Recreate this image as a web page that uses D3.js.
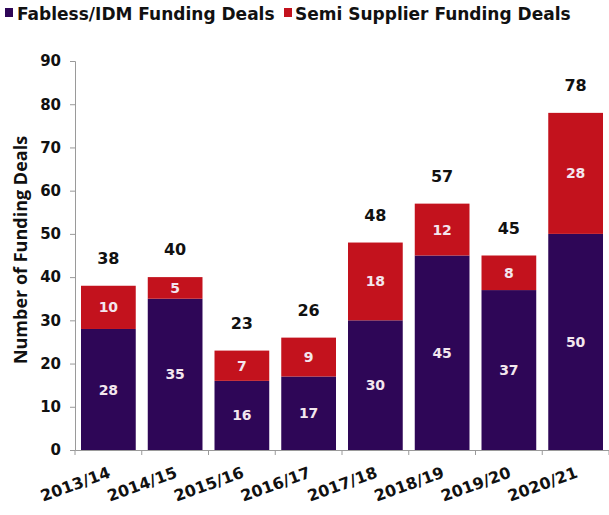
<!DOCTYPE html>
<html><head><meta charset="utf-8">
<script src="https://cdn.jsdelivr.net/npm/d3@7/dist/d3.min.js"></script>
<style>body{margin:0;background:#fff}svg{display:block}</style>
</head><body>
<svg id="c" width="609" height="515"></svg>
<script>
const categories = ["2013/14","2014/15","2015/16","2016/17","2017/18","2018/19","2019/20","2020/21"];
const fabless = [28,35,16,17,30,45,37,50];
const semi = [10,5,7,9,18,12,8,28];
const totals = [38,40,23,26,48,57,45,78];
const yTicks = [0,10,20,30,40,50,60,70,80,90];
const seriesNames = ["Fabless/IDM Funding Deals","Semi Supplier Funding Deals"];
const colors = ["#2e0657","#c3121d"];

const svg = d3.select("#c");
const F = "'DejaVu Sans', Verdana, sans-serif";
const pLeft = 75, pRight = 609, pTop = 61, pBottom = 450;

const x = d3.scaleBand().domain(categories).range([pLeft, pRight]).paddingInner(0.18).paddingOuter(0.09);
const y = d3.scaleLinear().domain([0, 90]).range([pBottom, pTop]);

const data = categories.map((c, i) => ({cat: c, fabless: fabless[i], semi: semi[i], total: totals[i]}));
const stack = d3.stack().keys(["fabless","semi"])(data);

svg.append("g").selectAll("g").data(stack).join("g")
  .attr("fill", (d, i) => colors[i])
  .selectAll("rect").data(d => d).join("rect")
  .attr("x", d => x(d.data.cat))
  .attr("width", x.bandwidth())
  .attr("y", d => y(d[1]))
  .attr("height", d => y(d[0]) - y(d[1]));

// segment labels
stack.forEach(s => {
  svg.append("g").selectAll("text").data(s).join("text")
    .attr("x", d => x(d.data.cat) + x.bandwidth() / 2)
    .attr("y", d => (y(d[0]) + y(d[1])) / 2)
    .attr("dy", "0.36em")
    .attr("text-anchor", "middle")
    .attr("font-family", F).attr("font-weight", "bold").attr("font-size", 14)
    .attr("fill", "#f3e6ee")
    .text(d => d[1] - d[0]);
});

// totals
svg.append("g").selectAll("text").data(data).join("text")
  .attr("x", d => x(d.cat) + x.bandwidth() / 2)
  .attr("y", d => y(d.total) - 22)
  .attr("text-anchor", "middle")
  .attr("font-family", F).attr("font-weight", "bold").attr("font-size", 16)
  .attr("fill", "#111")
  .text(d => d.total);

// y axis
const ya = svg.append("g").attr("transform", `translate(${pLeft},0)`)
  .call(d3.axisLeft(y).tickValues(yTicks).tickSize(5).tickPadding(9));
ya.select(".domain").attr("stroke", "#9a9a9a");
ya.selectAll(".tick line").attr("stroke", "#9a9a9a");
ya.selectAll(".tick text").attr("font-family", F).attr("font-weight", "bold").attr("font-size", 15).attr("fill", "#111");

// x axis
const xa = svg.append("g").attr("transform", `translate(0,${pBottom})`)
  .call(d3.axisBottom(x).tickSize(0).tickFormat(""));
xa.select(".domain").attr("stroke", "#9a9a9a");
const xtick = d3.range(categories.length + 1).map(i => pLeft + i * x.step());
svg.append("g").selectAll("line").data(xtick).join("line")
  .attr("x1", d => d).attr("x2", d => d).attr("y1", pBottom).attr("y2", pBottom + 5)
  .attr("stroke", "#9a9a9a");
svg.append("g").selectAll("text").data(categories).join("text")
  .attr("transform", d => `translate(${x(d) + x.bandwidth() / 2 + 3},${pBottom + 27}) rotate(-20)`)
  .attr("text-anchor", "end")
  .attr("font-family", F).attr("font-weight", "bold").attr("font-size", 16)
  .attr("fill", "#111")
  .text(d => d);

// y axis title
svg.append("text")
  .attr("transform", `translate(27,250) rotate(-90)`)
  .attr("text-anchor", "middle")
  .attr("font-family", "'Open Sans', sans-serif").attr("font-weight", "bold").attr("font-size", 18)
  .attr("fill", "#111")
  .text("Number of Funding Deals");

// legend
const leg = [{x: 5, tx: 17}, {x: 284, tx: 295}];
seriesNames.forEach((n, i) => {
  svg.append("rect").attr("x", leg[i].x).attr("y", 8).attr("width", 8).attr("height", 9).attr("fill", colors[i]);
  svg.append("text").attr("x", leg[i].tx).attr("y", 20)
    .attr("font-family", F).attr("font-weight", "bold").attr("font-size", 17).attr("fill", "#111")
    .text(n);
});
</script>
</body></html>
